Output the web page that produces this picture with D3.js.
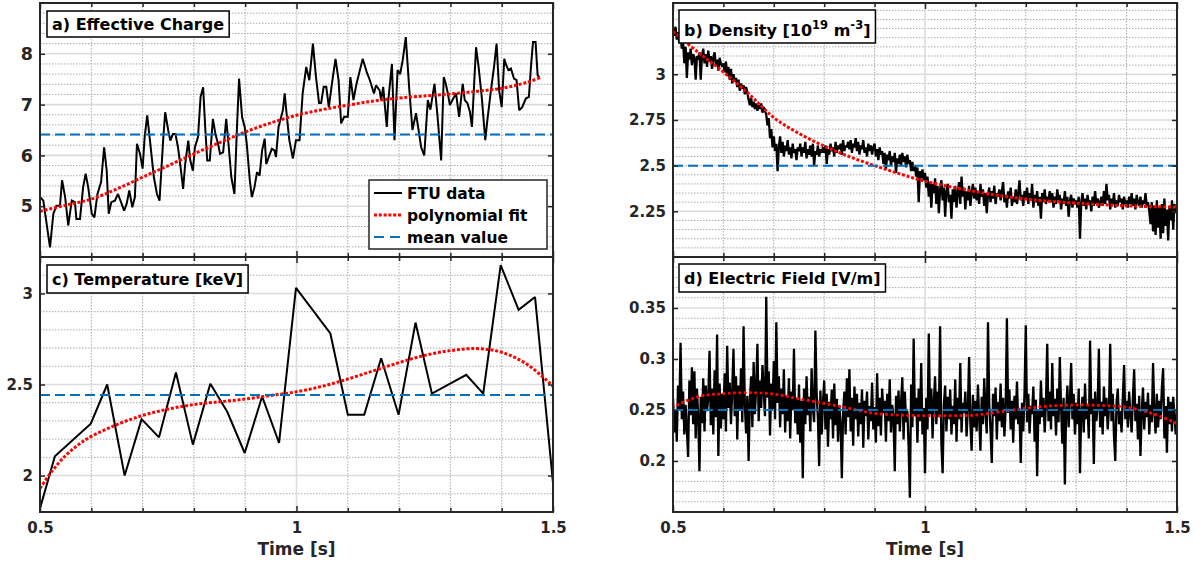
<!DOCTYPE html>
<html>
<head>
<meta charset="utf-8">
<script src="https://cdn.jsdelivr.net/npm/d3@7"></script>
<style>
  html, body { margin: 0; padding: 0; background: #fff; }
  svg { display: block; font-family: "DejaVu Sans", sans-serif; font-weight: bold; }
</style>
</head>
<body>
<svg id="chart" width="1203" height="566"></svg>
<script>
// ---------------- data ----------------
const timeTicks = [0.5, 1, 1.5];
const timeLabels = ["0.5", "1", "1.5"];

// a) effective charge
const zeffTicks = [5, 6, 7, 8];
const zeffTime = [0.5, 0.5065, 0.5195, 0.526, 0.532, 0.539, 0.543, 0.549, 0.555, 0.562, 0.568, 0.571, 0.578, 0.584, 0.589, 0.594,
  0.601, 0.606, 0.612, 0.619, 0.625, 0.630, 0.634, 0.639, 0.646, 0.652, 0.659, 0.664, 0.669, 0.674, 0.680, 0.685, 0.689, 0.695,
  0.700, 0.704, 0.709, 0.715, 0.722, 0.728, 0.733, 0.740, 0.744, 0.750, 0.754, 0.759, 0.764, 0.769, 0.774, 0.779, 0.783, 0.789,
  0.793, 0.798, 0.802, 0.808, 0.813, 0.818, 0.822, 0.826, 0.831, 0.837, 0.842, 0.847, 0.851, 0.857, 0.863, 0.868, 0.873, 0.879,
  0.884, 0.888, 0.894, 0.899, 0.903, 0.909, 0.913, 0.918, 0.923, 0.928, 0.933, 0.938, 0.941, 0.946, 0.952, 0.957, 0.960, 0.965,
  0.9735, 0.977, 0.980, 0.986, 0.993, 0.999, 1.006, 1.012, 1.019, 1.025, 1.032, 1.038, 1.044, 1.048, 1.053, 1.058, 1.063, 1.069,
  1.076, 1.082, 1.087, 1.093, 1.100, 1.105, 1.111, 1.117, 1.129, 1.137, 1.143, 1.151, 1.155, 1.162, 1.165, 1.169, 1.176, 1.179,
  1.186, 1.191, 1.197, 1.202, 1.207, 1.213, 1.220, 1.226, 1.233, 1.239, 1.243, 1.249, 1.256, 1.261, 1.269, 1.275, 1.282, 1.287,
  1.291, 1.295, 1.299, 1.304, 1.311, 1.317, 1.324, 1.328, 1.333, 1.338, 1.342, 1.346, 1.350, 1.355, 1.361, 1.368, 1.372, 1.379,
  1.385, 1.390, 1.395, 1.400, 1.405, 1.408, 1.413, 1.418, 1.424, 1.429, 1.434, 1.440, 1.447, 1.453, 1.457, 1.461, 1.466, 1.470, 1.473];
const zeffValues = [5.18, 5.11, 4.19, 4.85, 5.01, 5.01, 5.51, 5.18, 4.62, 5.11, 5.08, 4.75, 4.75, 5.37, 5.64, 5.37,
  4.85, 4.78, 5.24, 5.47, 6.16, 5.70, 4.85, 5.08, 5.11, 5.24, 5.05, 4.91, 5.05, 5.31, 4.98, 5.18, 6.23, 6.03,
  5.74, 6.36, 6.79, 6.23, 5.57, 5.24, 5.11, 6.29, 6.85, 6.49, 6.29, 6.42, 6.42, 6.16, 5.77, 5.34, 5.83, 6.29,
  5.90, 5.70, 6.16, 6.36, 7.15, 7.34, 6.56, 5.90, 5.90, 6.72, 6.42, 6.23, 6.03, 6.06, 6.72, 6.16, 5.57, 5.24,
  6.56, 7.51, 6.75, 6.56, 6.23, 5.51, 5.18, 5.37, 5.67, 5.60, 6.10, 6.33, 5.83, 5.97, 6.13, 6.10, 5.97, 6.56,
  6.89, 7.22, 6.89, 6.30, 5.94, 6.30, 6.30, 7.22, 7.74, 7.48, 8.20, 7.54, 7.03, 7.03, 7.35, 7.35, 6.95, 7.41,
  7.90, 7.48, 6.63, 6.76, 6.76, 7.54, 7.09, 7.41, 7.90, 7.64, 7.48, 7.22, 7.38, 7.28, 7.09, 7.35, 6.56, 7.09,
  7.80, 6.30, 7.68, 7.60, 7.87, 8.33, 7.28, 6.50, 6.83, 6.43, 6.16, 6.00, 7.09, 6.90, 7.41, 6.76, 5.90, 7.54,
  7.41, 7.22, 6.99, 7.09, 7.22, 6.76, 7.41, 7.09, 7.03, 6.86, 6.56, 7.35, 8.13, 7.74, 7.16, 6.30, 6.69, 7.28,
  7.74, 8.20, 7.28, 6.95, 7.90, 7.80, 7.68, 7.71, 7.51, 7.48, 6.89, 6.95, 7.12, 7.15, 7.74, 8.23, 8.23, 7.58, 7.54];
const zeffFitTime = [0.5, 0.55, 0.6, 0.65, 0.7, 0.75, 0.8, 0.85, 0.9, 0.95, 1.0, 1.05, 1.1, 1.15, 1.2, 1.25, 1.3, 1.35, 1.4, 1.45, 1.475];
const zeffFit = [4.90, 5.02, 5.14, 5.34, 5.57, 5.80, 6.03, 6.25, 6.46, 6.64, 6.79, 6.90, 6.99, 7.07, 7.13, 7.17, 7.21, 7.26, 7.32, 7.44, 7.53];
const zeffMean = 6.41;

// b) density, sampled every 2.5 ms from 0.5 s to 1.5 s
const densityTicks = [2.25, 2.5, 2.75, 3];
const densityStart = 0.5, densityEnd = 1.5;
const densityValues = [
  3.25, 3.21, 3.26, 3.19, 3.23, 3.17, 3.22, 3.14, 3.18, 3.06, 3.15, 2.98, 3.12, 3.08, 3.14, 3.05, 3.11, 3.09, 2.97, 3.10,
  3.08, 3.12, 2.97, 3.10, 3.14, 3.06, 3.11, 3.04, 3.13, 3.07, 3.10, 3.03, 3.09, 3.12, 3.05, 3.08, 3.02, 3.09, 3.06, 3.04,
  3.06, 3.01, 3.07, 2.99, 3.04, 2.97, 3.03, 2.95, 3.00, 2.96, 2.98, 2.93, 2.97, 2.91, 2.95, 2.92, 2.94, 2.89, 2.93, 2.90,
  2.86, 2.83, 2.87, 2.82, 2.85, 2.81, 2.84, 2.80, 2.83, 2.81, 2.84, 2.79, 2.82, 2.80, 2.78, 2.72, 2.76, 2.65, 2.70, 2.60,
  2.66, 2.58, 2.62, 2.47, 2.60, 2.66, 2.57, 2.63, 2.55, 2.61, 2.58, 2.64, 2.56, 2.60, 2.54, 2.62, 2.57, 2.59, 2.53, 2.60,
  2.58, 2.62, 2.55, 2.60, 2.57, 2.63, 2.54, 2.59, 2.56, 2.61, 2.55, 2.62, 2.50, 2.58, 2.56, 2.61, 2.55, 2.59, 2.57, 2.60,
  2.57, 2.61, 2.51, 2.59, 2.56, 2.62, 2.58, 2.60, 2.55, 2.63, 2.57, 2.61, 2.59, 2.62, 2.56, 2.64, 2.58, 2.61, 2.60, 2.63,
  2.59, 2.64, 2.57, 2.62, 2.60, 2.65, 2.58, 2.63, 2.56, 2.61, 2.59, 2.64, 2.57, 2.60, 2.55, 2.62, 2.58, 2.61, 2.56, 2.60,
  2.62, 2.55, 2.59, 2.53, 2.60, 2.56, 2.58, 2.51, 2.57, 2.48, 2.56, 2.53, 2.58, 2.50, 2.55, 2.52, 2.57, 2.46, 2.54, 2.51,
  2.56, 2.50, 2.57, 2.52, 2.55, 2.49, 2.56, 2.51, 2.53, 2.47, 2.52, 2.47, 2.50, 2.44, 2.49, 2.30, 2.47, 2.43, 2.48, 2.42,
  2.46, 2.38, 2.44, 2.33, 2.41, 2.27, 2.40, 2.35, 2.43, 2.29, 2.39, 2.24, 2.37, 2.42, 2.31, 2.38, 2.22, 2.36, 2.40, 2.30,
  2.34, 2.21, 2.37, 2.30, 2.39, 2.27, 2.35, 2.41, 2.29, 2.44, 2.33, 2.38, 2.26, 2.36, 2.31, 2.39, 2.28, 2.35, 2.40, 2.32,
  2.38, 2.31, 2.36, 2.29, 2.40, 2.33, 2.37, 2.28, 2.35, 2.24, 2.34, 2.38, 2.30, 2.36, 2.32, 2.39, 2.29, 2.35, 2.33, 2.37,
  2.31, 2.36, 2.41, 2.30, 2.34, 2.27, 2.36, 2.32, 2.38, 2.28, 2.33, 2.30, 2.37, 2.29, 2.35, 2.42, 2.31, 2.34, 2.28, 2.36,
  2.32, 2.38, 2.29, 2.35, 2.31, 2.40, 2.27, 2.34, 2.30, 2.36, 2.28, 2.33, 2.21, 2.35, 2.30, 2.37, 2.29, 2.33, 2.31, 2.36,
  2.30, 2.35, 2.27, 2.33, 2.29, 2.37, 2.31, 2.34, 2.26, 2.32, 2.29, 2.36, 2.28, 2.33, 2.22, 2.31, 2.34, 2.27, 2.32, 2.29,
  2.31, 2.27, 2.33, 2.10, 2.30, 2.35, 2.28, 2.32, 2.26, 2.34, 2.29, 2.31, 2.25, 2.33, 2.28, 2.36, 2.29, 2.32, 2.27, 2.30,
  2.33, 2.28, 2.36, 2.29, 2.40, 2.31, 2.34, 2.26, 2.32, 2.29, 2.35, 2.27, 2.31, 2.28, 2.34, 2.30, 2.32, 2.26, 2.33, 2.29,
  2.31, 2.27, 2.33, 2.29, 2.35, 2.28, 2.32, 2.26, 2.34, 2.30, 2.28, 2.33, 2.27, 2.31, 2.29, 2.35, 2.28, 2.30, 2.25, 2.18,
  2.30, 2.14, 2.28, 2.12, 2.31, 2.16, 2.27, 2.10, 2.29, 2.13, 2.32, 2.17, 2.26, 2.09, 2.28, 2.20, 2.31, 2.15, 2.29, 2.24, 2.28];
const densityFitTime = [0.5, 0.55, 0.6, 0.65, 0.7, 0.75, 0.8, 0.85, 0.9, 0.95, 1.0, 1.1, 1.2, 1.3, 1.4, 1.5];
const densityFit = [3.235, 3.12, 3.012, 2.894, 2.763, 2.676, 2.607, 2.549, 2.50, 2.455, 2.415, 2.358, 2.317, 2.295, 2.28, 2.273];
const densityMean = 2.5;

// c) temperature
const tempTicks = [2, 2.5, 3];
const tempTime = [0.5, 0.529, 0.599, 0.631, 0.665, 0.698, 0.732, 0.765, 0.798, 0.832, 0.865, 0.899, 0.933, 0.966, 0.999,
  1.066, 1.100, 1.132, 1.165, 1.199, 1.232, 1.264, 1.331, 1.364, 1.398, 1.433, 1.465, 1.5];
const tempValues = [1.82, 2.106, 2.285, 2.50, 2.0, 2.31, 2.21, 2.566, 2.17, 2.504, 2.35, 2.124, 2.434, 2.18, 3.03,
  2.78, 2.334, 2.334, 2.644, 2.334, 2.84, 2.45, 2.553, 2.45, 3.155, 2.91, 2.98, 1.96];
const tempFitTime = [0.5, 0.525, 0.55, 0.575, 0.6, 0.65, 0.7, 0.75, 0.8, 0.85, 0.9, 0.95, 1.0, 1.05, 1.1, 1.15, 1.2, 1.25, 1.3, 1.35, 1.4, 1.45, 1.5];
const tempFit = [1.93, 2.03, 2.11, 2.17, 2.215, 2.28, 2.33, 2.365, 2.39, 2.405, 2.42, 2.44, 2.46, 2.49, 2.53, 2.575, 2.62, 2.66, 2.686, 2.697, 2.677, 2.61, 2.49];
const tempMean = 2.443;

// d) electric field, sampled every 2.5 ms from 0.5 s to 1.5 s
const efieldTicks = [0.2, 0.25, 0.3, 0.35];
const efieldStart = 0.5, efieldEnd = 1.5;
const efieldValues = [
  0.262, 0.228, 0.251, 0.219, 0.274, 0.249, 0.316, 0.241, 0.268, 0.226, 0.255, 0.231, 0.204, 0.279, 0.245, 0.292, 0.236, 0.288, 0.222, 0.271,
  0.244, 0.190, 0.263, 0.237, 0.281, 0.229, 0.274, 0.249, 0.262, 0.308, 0.235, 0.271, 0.226, 0.289, 0.243, 0.324, 0.205, 0.276, 0.232, 0.266,
  0.241, 0.286, 0.229, 0.313, 0.252, 0.277, 0.236, 0.269, 0.310, 0.244, 0.283, 0.221, 0.274, 0.249, 0.291, 0.238, 0.332, 0.256, 0.227, 0.264,
  0.200, 0.258, 0.283, 0.233, 0.297, 0.246, 0.271, 0.315, 0.239, 0.279, 0.252, 0.294, 0.268, 0.244, 0.361, 0.262, 0.288, 0.225, 0.276, 0.251,
  0.298, 0.241, 0.336, 0.257, 0.283, 0.233, 0.271, 0.246, 0.290, 0.228, 0.264, 0.239, 0.281, 0.222, 0.268, 0.250, 0.310, 0.237, 0.262, 0.226,
  0.275, 0.218, 0.259, 0.183, 0.271, 0.236, 0.283, 0.245, 0.263, 0.229, 0.291, 0.252, 0.238, 0.328, 0.266, 0.242, 0.195, 0.269, 0.226, 0.257,
  0.279, 0.231, 0.266, 0.214, 0.258, 0.241, 0.270, 0.222, 0.276, 0.235, 0.261, 0.219, 0.254, 0.238, 0.183, 0.247, 0.268, 0.226, 0.281, 0.243,
  0.290, 0.229, 0.262, 0.215, 0.273, 0.241, 0.266, 0.224, 0.257, 0.236, 0.270, 0.213, 0.259, 0.244, 0.268, 0.221, 0.254, 0.239, 0.277, 0.231,
  0.253, 0.218, 0.286, 0.234, 0.262, 0.225, 0.271, 0.247, 0.259, 0.219, 0.266, 0.239, 0.280, 0.228, 0.255, 0.243, 0.190, 0.264, 0.236, 0.269,
  0.229, 0.257, 0.282, 0.221, 0.268, 0.238, 0.249, 0.214, 0.164, 0.275, 0.233, 0.320, 0.244, 0.262, 0.218, 0.271, 0.239, 0.296, 0.226, 0.252,
  0.188, 0.262, 0.231, 0.325, 0.246, 0.271, 0.222, 0.259, 0.283, 0.236, 0.268, 0.243, 0.332, 0.217, 0.188, 0.256, 0.274, 0.229, 0.263, 0.241,
  0.270, 0.226, 0.254, 0.236, 0.280, 0.219, 0.262, 0.241, 0.296, 0.228, 0.257, 0.247, 0.268, 0.224, 0.251, 0.302, 0.237, 0.210, 0.265, 0.233,
  0.259, 0.229, 0.275, 0.242, 0.210, 0.263, 0.236, 0.281, 0.248, 0.227, 0.336, 0.255, 0.230, 0.198, 0.266, 0.244, 0.272, 0.221, 0.258, 0.239,
  0.276, 0.233, 0.262, 0.224, 0.251, 0.340, 0.247, 0.270, 0.231, 0.259, 0.218, 0.264, 0.241, 0.278, 0.236, 0.249, 0.198, 0.257, 0.229, 0.268,
  0.333, 0.238, 0.266, 0.227, 0.254, 0.246, 0.273, 0.219, 0.260, 0.185, 0.251, 0.236, 0.279, 0.243, 0.262, 0.228, 0.257, 0.315, 0.239, 0.268,
  0.231, 0.296, 0.244, 0.261, 0.225, 0.271, 0.238, 0.302, 0.253, 0.217, 0.262, 0.177, 0.248, 0.274, 0.233, 0.259, 0.296, 0.241, 0.266, 0.226,
  0.257, 0.236, 0.271, 0.188, 0.249, 0.263, 0.228, 0.276, 0.241, 0.255, 0.222, 0.318, 0.246, 0.261, 0.197, 0.268, 0.239, 0.252, 0.310, 0.233,
  0.258, 0.226, 0.273, 0.244, 0.262, 0.231, 0.251, 0.315, 0.239, 0.266, 0.224, 0.200, 0.257, 0.271, 0.236, 0.249, 0.228, 0.263, 0.294, 0.241,
  0.259, 0.233, 0.268, 0.246, 0.228, 0.262, 0.290, 0.239, 0.256, 0.221, 0.264, 0.205, 0.247, 0.272, 0.231, 0.258, 0.243, 0.267, 0.226, 0.255,
  0.238, 0.296, 0.249, 0.227, 0.266, 0.233, 0.259, 0.241, 0.272, 0.291, 0.222, 0.254, 0.208, 0.263, 0.236, 0.258, 0.229, 0.263, 0.244, 0.226, 0.250];
const efieldFitTime = [0.5, 0.55, 0.6, 0.65, 0.7, 0.75, 0.8, 0.85, 0.9, 0.95, 1.0, 1.05, 1.1, 1.15, 1.2, 1.25, 1.3, 1.35, 1.4, 1.45, 1.5];
const efieldFit = [0.253, 0.263, 0.266, 0.267, 0.2656, 0.261, 0.2565, 0.2516, 0.2467, 0.245, 0.2445, 0.2445, 0.245, 0.2484, 0.2516, 0.254, 0.2549, 0.2545, 0.2526, 0.2467, 0.237];
const efieldMean = 0.25;

const legendLabels = ["FTU data", "polynomial fit", "mean value"];

// ---------------- layout & style ----------------
const INK = "#262626";
const FIT_RED = "#ff0000";
const MEAN_BLUE = "#0072bd";

const svg = d3.select("#chart");

// time stamps for uniformly sampled records
function sampleTimes(values, t0, t1) {
  const n = values.length;
  return values.map((_, i) => t0 + (t1 - t0) * i / (n - 1));
}

const panels = [
  { key: "a", xr: [40, 553], yr: [3, 257], domain: [4, 9], ticks: zeffTicks, minor: 25,
    t: zeffTime, v: zeffValues, fitT: zeffFitTime, fit: zeffFit, mean: zeffMean,
    dataWidth: 2, fitStyle: "dense", labelSize: 17.5, xLabels: false,
    title: [["a) Effective Charge"]], box: { x: 47, y: 11, h: 26, base: 19 } },
  { key: "b", xr: [673, 1177], yr: [3, 257], domain: [2, 3.39], ticks: densityTicks, minor: 28,
    t: sampleTimes(densityValues, densityStart, densityEnd), v: densityValues,
    fitT: densityFitTime, fit: densityFit, mean: densityMean,
    dataWidth: 2.3, fitStyle: "dense", labelSize: 15, xLabels: false,
    title: [["b) Density [10"], ["19", "sup"], [" m"], ["-3", "sup"], ["]"]], box: { x: 679, y: 10, h: 33, base: 26 } },
  { key: "c", xr: [40, 553], yr: [257, 512], domain: [1.8, 3.2], ticks: tempTicks, minor: 14,
    t: tempTime, v: tempValues, fitT: tempFitTime, fit: tempFit, mean: tempMean,
    dataWidth: 2, fitStyle: "dense", labelSize: 15, xLabels: true,
    title: [["c) Temperature [keV]"]], box: { x: 47, y: 265, h: 28, base: 20 } },
  { key: "d", xr: [673, 1177], yr: [257, 512], domain: [0.15, 0.4], ticks: efieldTicks, minor: 25,
    t: sampleTimes(efieldValues, efieldStart, efieldEnd), v: efieldValues,
    fitT: efieldFitTime, fit: efieldFit, mean: efieldMean,
    dataWidth: 2.3, fitStyle: "round", labelSize: 15, xLabels: true,
    title: [["d) Electric Field [V/m]"]], box: { x: 679, y: 264, h: 28, base: 20 } }
];

const near = (a, b) => Math.abs(a - b) < 1e-9;

panels.forEach(p => {
  const x = d3.scaleLinear().domain([0.5, 1.5]).range(p.xr);
  const y = d3.scaleLinear().domain(p.domain).range([p.yr[1], p.yr[0]]);
  const g = svg.append("g").attr("class", "panel-" + p.key);
  const w = p.xr[1] - p.xr[0], h = p.yr[1] - p.yr[0];

  g.append("rect").attr("x", p.xr[0]).attr("y", p.yr[0]).attr("width", w).attr("height", h).attr("fill", "#fff");

  const clipId = "clip-" + p.key;
  svg.append("defs").append("clipPath").attr("id", clipId)
    .append("rect").attr("x", p.xr[0]).attr("y", p.yr[0]).attr("width", w).attr("height", h);

  // grid: minor (dotted) then major (solid)
  const xMinor = x.ticks(10).filter(t => !timeTicks.some(m => near(m, t)));
  const yMinor = y.ticks(p.minor).filter(t => !p.ticks.some(m => Math.abs(m - t) < 1e-6)
      && t > p.domain[0] && t < p.domain[1]);
  const grid = g.append("g");
  grid.selectAll(".hmin").data(yMinor).join("line")
    .attr("x1", p.xr[0]).attr("x2", p.xr[1]).attr("y1", d => y(d)).attr("y2", d => y(d))
    .attr("stroke", "#ababab").attr("stroke-width", 1).attr("stroke-dasharray", "1.5,1.5");
  grid.selectAll(".vmin").data(xMinor).join("line")
    .attr("y1", p.yr[0]).attr("y2", p.yr[1]).attr("x1", d => x(d)).attr("x2", d => x(d))
    .attr("stroke", "#ababab").attr("stroke-width", 1).attr("stroke-dasharray", "1.5,1.5");
  grid.selectAll(".hmaj").data(p.ticks).join("line")
    .attr("x1", p.xr[0]).attr("x2", p.xr[1]).attr("y1", d => y(d)).attr("y2", d => y(d))
    .attr("stroke", "#dcdcdc").attr("stroke-width", 1.6);
  grid.selectAll(".vmaj").data(timeTicks).join("line")
    .attr("y1", p.yr[0]).attr("y2", p.yr[1]).attr("x1", d => x(d)).attr("x2", d => x(d))
    .attr("stroke", "#dcdcdc").attr("stroke-width", 1.6);

  // series
  const plot = g.append("g").attr("clip-path", `url(#${clipId})`);
  const dataLine = d3.line().x((d, i) => x(p.t[i])).y(d => y(d));
  plot.append("path").datum(p.v).attr("d", dataLine)
    .attr("fill", "none").attr("stroke", "#000").attr("stroke-width", p.dataWidth)
    .attr("stroke-linejoin", "miter").attr("stroke-miterlimit", 2);

  const fitLine = d3.line().curve(d3.curveCatmullRom).x((d, i) => x(p.fitT[i])).y(d => y(d));
  const fitPath = plot.append("path").datum(p.fit).attr("d", fitLine)
    .attr("fill", "none").attr("stroke", FIT_RED);
  if (p.fitStyle === "round") {
    fitPath.attr("stroke-width", 3.2).attr("stroke-linecap", "round").attr("stroke-dasharray", "0.01,5.3");
  } else {
    fitPath.attr("stroke-width", 3).attr("stroke-dasharray", "3,1.8");
  }

  plot.append("line").attr("x1", x(0.5)).attr("x2", x(1.5)).attr("y1", y(p.mean)).attr("y2", y(p.mean))
    .attr("stroke", MEAN_BLUE).attr("stroke-width", 2).attr("stroke-dasharray", "10,5");

  // axes: ticks point inward on all sides
  const styleAxis = sel => {
    sel.select(".domain").remove();
    sel.selectAll(".tick line").attr("stroke", INK).attr("stroke-width", 1.5);
    sel.selectAll(".tick text").attr("fill", INK).attr("font-family", "DejaVu Sans").attr("font-weight", "bold");
  };
  g.append("g").attr("transform", `translate(${p.xr[0]},0)`)
    .call(d3.axisLeft(y).tickValues(p.ticks).tickSize(-5).tickPadding(7).tickFormat(d => String(d)))
    .call(styleAxis)
    .call(s => s.selectAll(".tick text").attr("font-size", p.labelSize));
  g.append("g").attr("transform", `translate(${p.xr[1]},0)`)
    .call(d3.axisRight(y).tickValues(p.ticks).tickSize(-5).tickFormat(""))
    .call(styleAxis);
  g.append("g").attr("transform", `translate(0,${p.yr[1]})`)
    .call(d3.axisBottom(x).tickValues(xMinor).tickSize(-4).tickFormat(""))
    .call(styleAxis);
  g.append("g").attr("transform", `translate(0,${p.yr[0]})`)
    .call(d3.axisTop(x).tickValues(xMinor).tickSize(-4).tickFormat(""))
    .call(styleAxis);
  g.append("g").attr("transform", `translate(0,${p.yr[1]})`)
    .call(d3.axisBottom(x).tickValues(timeTicks).tickSize(-6).tickPadding(10)
      .tickFormat((d, i) => p.xLabels ? timeLabels[i] : ""))
    .call(styleAxis)
    .call(s => s.selectAll(".tick text").attr("font-size", 15));
  g.append("g").attr("transform", `translate(0,${p.yr[0]})`)
    .call(d3.axisTop(x).tickValues(timeTicks).tickSize(-6).tickFormat(""))
    .call(styleAxis);

  // frame
  g.append("rect").attr("x", p.xr[0]).attr("y", p.yr[0]).attr("width", w).attr("height", h)
    .attr("fill", "none").attr("stroke", INK).attr("stroke-width", 2);

  // title box
  const tb = g.append("g");
  const rect = tb.append("rect").attr("fill", "#fff").attr("stroke", "#000").attr("stroke-width", 1.5);
  const txt = tb.append("text").attr("x", p.box.x + 5).attr("y", p.box.y + p.box.base)
    .attr("font-size", 16).attr("fill", "#000");
  p.title.forEach(([s, kind]) => {
    const ts = txt.append("tspan").text(s);
    if (kind === "sup") ts.attr("font-size", 11.5).attr("dy", -7);
    else if (txt.selectAll("tspan").size() > 1) ts.attr("dy", 7);
  });
  const bb = txt.node().getBBox();
  rect.attr("x", p.box.x).attr("y", p.box.y).attr("width", bb.width + 10).attr("height", p.box.h);

  if (p.xLabels) {
    g.append("text").attr("x", (p.xr[0] + p.xr[1]) / 2).attr("y", 555)
      .attr("text-anchor", "middle").attr("font-size", 17).attr("fill", INK).text("Time [s]");
  }

  if (p.key === "a") {
    const lg = g.append("g").attr("transform", "translate(369,180)");
    lg.append("rect").attr("width", 178).attr("height", 69)
      .attr("fill", "#fff").attr("stroke", INK).attr("stroke-width", 1.5);
    const styles = [
      s => s.attr("stroke", "#000").attr("stroke-width", 2),
      s => s.attr("stroke", FIT_RED).attr("stroke-width", 3).attr("stroke-dasharray", "3,1.8"),
      s => s.attr("stroke", MEAN_BLUE).attr("stroke-width", 2).attr("stroke-dasharray", "10,6")
    ];
    legendLabels.forEach((lab, i) => {
      const cy = 13 + i * 22;
      lg.append("line").attr("x1", 5).attr("x2", 33).attr("y1", cy).attr("y2", cy).call(styles[i]);
      lg.append("text").attr("x", 38).attr("y", cy + 5.5).attr("font-size", 15.5).attr("fill", "#000").text(lab);
    });
  }
});
</script>
</body>
</html>
